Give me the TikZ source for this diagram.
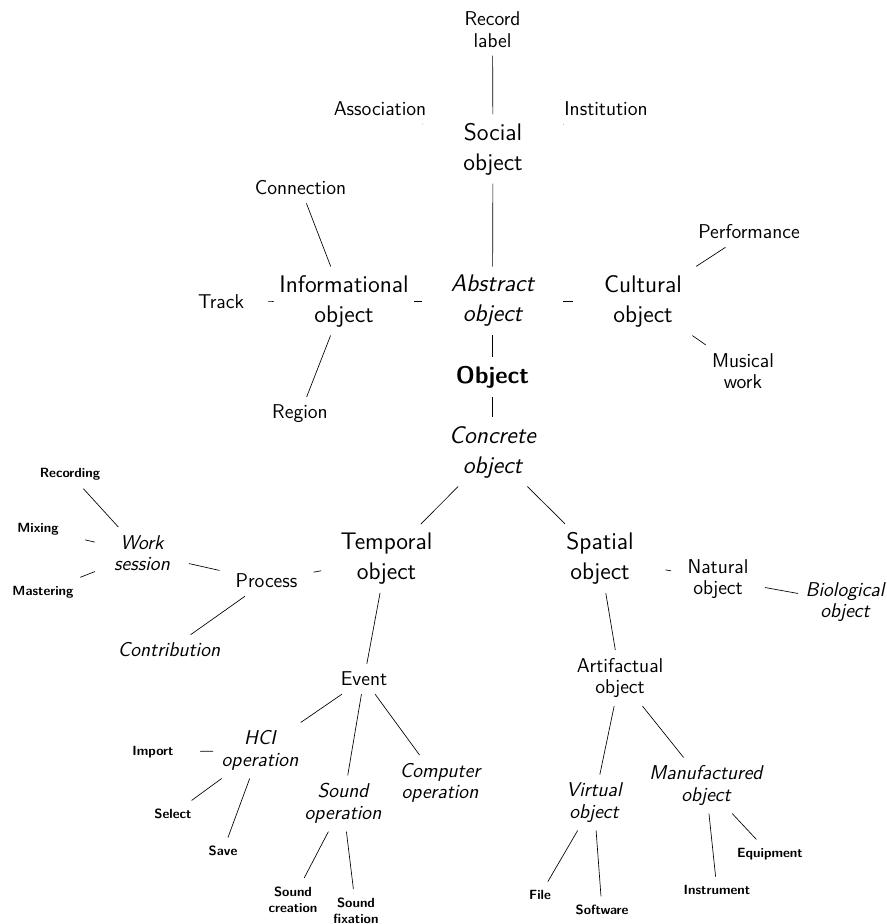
\documentclass[tikz,border=0pt]{standalone}
\usepackage{tikz}

\begin{document}
\begin{tikzpicture}[x=0.6pt, y=-0.6pt,
  bigobj/.style={font=\sffamily\Large, align=center, inner xsep=2pt, inner ysep=5pt, minimum width=84pt},
  midobj/.style={font=\sffamily\fontsize{12}{13}\selectfont, align=center, inner xsep=2pt, inner ysep=4.7pt, minimum width=56pt},
  midit/.style={midobj, font=\sffamily\itshape\fontsize{12}{13}\selectfont},
  leafobj/.style={font=\sffamily\bfseries\footnotesize, align=center, inner xsep=2pt, inner ysep=5pt, minimum width=56pt}]
\useasboundingbox (0,0) rectangle (886,924);

% abstract side
\node [midobj] (rec) at (492.5,29.5) {Record\\label};
\node [midobj] (assoc) at (380,109) {Association};
\node [midobj] (inst) at (606,109) {Institution};
\node [bigobj] (soc) at (493,149) {Social\\object};
\node [midobj] (conn) at (300.5,188) {Connection};
\node [midobj] (track) at (221,302) {Track};
\node [bigobj] (info) at (344,301) {Informational\\object};
\node [bigobj] (abs) at (492.5,301) {\itshape Abstract\\\itshape object};
\node [bigobj] (cult) at (643,301) {Cultural\\object};
\node [midobj] (perf) at (749,232) {Performance};
\node [midobj] (music) at (743,371) {Musical\\work};
\node [midobj] (region) at (300,414) {Region};
\node [bigobj, font=\sffamily\Large\bfseries] (obj) at (492.5,377) {Object};
\node [bigobj] (conc) at (492.5,452) {\itshape Concrete\\\itshape object};

% temporal side
\node [bigobj, minimum width=78pt] (temp) at (386.5,558.5) {Temporal\\object};
\node [midobj] (proc) at (266.5,581) {Process};
\node [midit] (work) at (142,553) {Work\\session};
\node [leafobj] (recd) at (70,474) {Recording};
\node [leafobj] (mix) at (38,529) {Mixing};
\node [leafobj] (mast) at (43,592) {Mastering};
\node [midit] (contrib) at (169,650) {Contribution};
\node [midobj] (event) at (364,679) {Event};
\node [midit] (hci) at (260,750.5) {HCI\\operation};
\node [leafobj] (import) at (153,752) {Import};
\node [leafobj] (select) at (173,814) {Select};
\node [leafobj] (save) at (223,851) {Save};
\node [midit] (sound) at (343,803.5) {Sound\\operation};
\node [midit] (comp) at (440,783) {Computer\\operation};
\node [leafobj] (screate) at (293,899.5) {Sound\\creation};
\node [leafobj] (sfix) at (356,910.5) {Sound\\fixation};

% spatial side
\node [bigobj, minimum width=78pt] (spat) at (600,558.5) {Spatial\\object};
\node [midobj] (nat) at (718,579) {Natural\\object};
\node [midit] (bio) at (845,602) {Biological\\object};
\node [midobj] (art) at (620,678) {Artifactual\\object};
\node [midit] (virt) at (594,802.5) {Virtual\\object};
\node [midit] (manu) at (706,785.5) {Manufactured\\object};
\node [leafobj] (file) at (540,895) {File};
\node [leafobj] (soft) at (602,910) {Software};
\node [leafobj] (instr) at (717,890) {Instrument};
\node [leafobj] (equip) at (770,854) {Equipment};

\foreach \a/\b in {rec/soc, assoc/soc, inst/soc, soc/abs, conn/info, track/info, info/abs,
    region/info, abs/cult, cult/perf, cult/music, abs/obj, obj/conc,
    conc/temp, conc/spat, temp/proc, proc/work, work/recd, work/mix, work/mast,
    proc/contrib, temp/event, event/hci, event/sound, event/comp, hci/import,
    hci/select, hci/save, sound/screate, sound/sfix,
    spat/nat, nat/bio, spat/art, art/virt, art/manu, virt/file, virt/soft,
    manu/instr, manu/equip}
  \draw (\a) -- (\b);
\end{tikzpicture}
\end{document}
